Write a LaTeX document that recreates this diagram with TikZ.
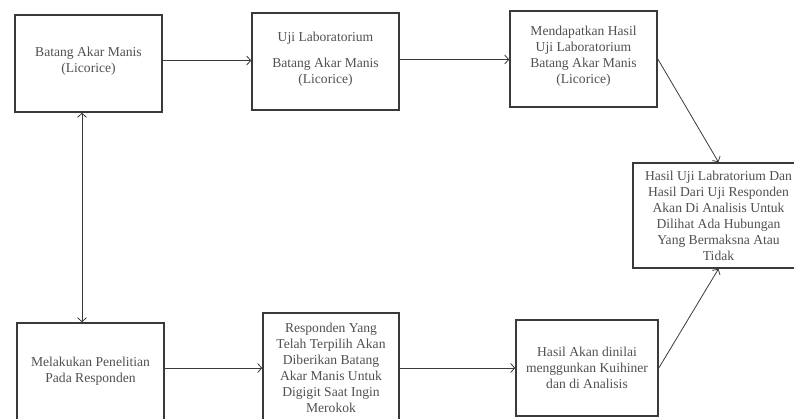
\documentclass[tikz,border=0pt]{standalone}
\usepackage{fontspec}
\setmainfont{Liberation Serif}
\usepackage{tikz}
\usetikzlibrary{arrows.meta}
\definecolor{ink}{HTML}{3A3A3A}
\definecolor{txt}{HTML}{505050}
\tikzset{box/.style = {shape = rectangle, draw = ink, line width = 1.6pt, align = center, text = txt, inner sep = 0pt, font = \fontsize{13.6}{16}\selectfont}}
\tikzset{edge/.style = {draw = ink, line width = 0.8pt, -{Straight Barb[length = 4pt, width = 9pt]}}}

\begin{document}
\begin{tikzpicture}[x = 1pt, y = -1pt]
				\useasboundingbox (0, 0) rectangle (794, 418);
				\clip (0, 0) rectangle (794, 418);
				\node[box, minimum width = 147, minimum height = 97, text depth = 8pt] (a) at (88.5, 63.5) {Batang Akar Manis\\(Licorice)};
				\node[box, minimum width = 147, minimum height = 97, text depth = 8pt] (b) at (325.5, 61.5) {Uji Laboratorium\\[10pt]Batang Akar Manis\\(Licorice)};
				\node[box, minimum width = 147, minimum height = 96, text depth = 8pt] (c) at (583.5, 59) {Mendapatkan Hasil\\Uji Laboratorium\\Batang Akar Manis\\(Licorice)};
				\node[box, minimum width = 171, minimum height = 105] (d) at (718.5, 215.5) {Hasil Uji Labratorium Dan\\Hasil Dari Uji Responden\\Akan Di Analisis Untuk\\Dilihat Ada Hubungan\\Yang Bermaksna Atau\\Tidak};
				\node[box, minimum width = 147, minimum height = 104, text depth = 10pt] (e) at (90.5, 375) {Melakukan Penelitian\\Pada Responden};
				\node[box, minimum width = 136, minimum height = 110] (f) at (331, 368) {Responden Yang\\Telah Terpilih Akan\\Diberikan Batang\\Akar Manis Untuk\\Digigit Saat Ingin\\Merokok};
				\node[box, minimum width = 142, minimum height = 96] (g) at (587, 368) {Hasil Akan dinilai\\menggunkan Kuihiner\\dan di Analisis};

				\draw[edge] ([yshift = 3pt]a.east) to ([yshift = 3pt]a.east -| b.west);
				\draw[edge] ([yshift = 2pt]b.east) to ([yshift = 2pt]b.east -| c.west);
				\draw[edge] (c.east) to (d.north);
				\draw[edge, {Straight Barb[length = 4pt, width = 9pt]}-{Straight Barb[length = 4pt, width = 9pt]}] ([xshift = -6.5pt]a.south) to ([xshift = -6.5pt]a.south |- e.north);
				\draw[edge] (e.east |- f.west) to (f.west);
				\draw[edge] (f.east) to (f.east -| g.west);
				\draw[edge] (g.east) to (d.south);
			\end{tikzpicture}
\end{document}
